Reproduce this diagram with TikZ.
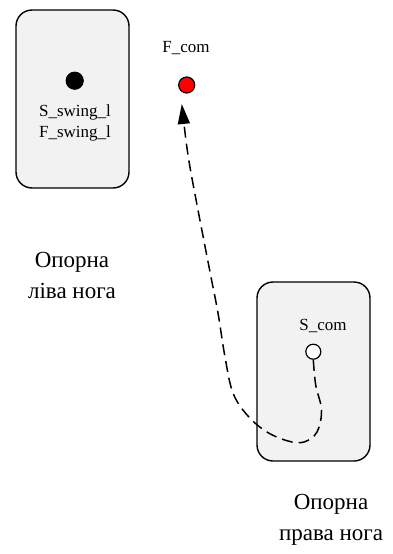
\documentclass[tikz,border=0pt]{standalone}
\usepackage{fontspec}
\setmainfont{Liberation Serif}
\usetikzlibrary{arrows.meta}
\definecolor{padgray}{HTML}{F2F2F2}
\begin{document}
\begin{tikzpicture}[x=1pt,y=-1pt,
  footbox/.style={draw=black, line width=1.4pt, fill=padgray, rounded corners=16pt},
  smalllabel/.style={font=\fontsize{17}{21}\selectfont, inner sep=0pt, align=center},
  biglabel/.style={font=\fontsize{23}{31}\selectfont, inner sep=0pt, align=center},
  dotnode/.style={circle, draw=black, line width=1.2pt, minimum size=#1, inner sep=0pt},
  trajectory/.style={line width=1.5pt, dash pattern=on 11pt off 6pt,
    -{Triangle[length=20pt,width=12pt]}}
]
\useasboundingbox (0,0) rectangle (392,554);

% left (swing) foot pad
\draw[footbox] (16,10) rectangle (129,188);
\node[dotnode=17pt, fill=black] (swingpt) at (74.7,80.7) {};
\node[smalllabel] (swinglbl) at (75,123) {S\_swing\_l\\F\_swing\_l};

% right (support) foot pad
\draw[footbox] (257,282) rectangle (370,461);
\node[smalllabel] (scomlbl) at (323,326) {S\_com};
\node[dotnode=15pt, fill=white] (scom) at (313.3,351.7) {};

% target centre of mass
\node[smalllabel] (fcomlbl) at (186,48) {F\_com};
\node[dotnode=16pt, fill=red] (fcom) at (186.7,85) {};
\coordinate (tip) at (181.8,104);

% foot captions
\node[biglabel] (leftcap) at (72,275) {Опорна\\ліва нога};
\node[biglabel] (rightcap) at (331,520) {Опорна\\права нога};

% centre-of-mass trajectory
\draw[trajectory] plot[smooth, tension=0.6] coordinates {
  (scom.south) (315.7,385) (321.5,410) (317,432) (304,442) (288,441)
  (267,432) (248,416) (233,393) (225,357) (218,313) (211,277)
  (198,210) (188,155) (tip)};
\end{tikzpicture}
\end{document}
